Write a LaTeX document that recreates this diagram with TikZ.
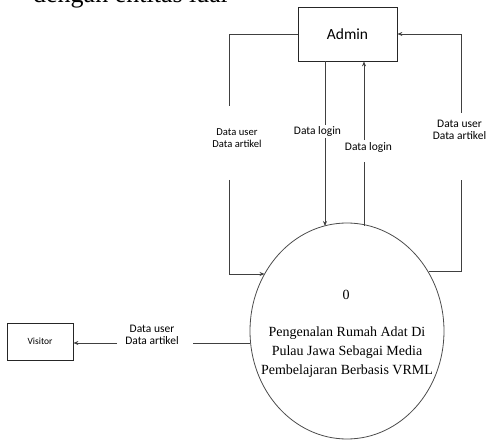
\documentclass[tikz,border=0pt]{standalone}
\usepackage{fontspec}
\setmainfont{Liberation Serif}
\newfontfamily\labelfont{Carlito}
\usetikzlibrary{shapes.geometric,arrows.meta}

\begin{document}
\begin{tikzpicture}[x=1pt,y=-1pt,
  flow/.style={draw=black!75,line width=0.8pt},
  arr/.style={flow,-{Stealth[length=5pt,width=4pt]}},
  entity/.style={draw=black!85,line width=0.8pt,rectangle,inner sep=0pt,font=\labelfont},
  process/.style={draw=black!70,line width=0.8pt,ellipse,inner sep=0pt,
    minimum width=194pt,minimum height=216pt},
  flowlabel/.style={font=\labelfont\fontsize{11.5}{12.5}\selectfont,align=center,inner sep=1pt}]
\useasboundingbox (0,0) rectangle (488,441);

% heading line running in from the page above
\node[anchor=base west,inner sep=0pt,font=\fontsize{26}{30}\selectfont] (head) at (33,3) {dengan entitas luar};

% external entities and the process
\node[entity,minimum width=99pt,minimum height=54pt,font=\labelfont\fontsize{15.5}{17}\selectfont] (admin) at (347.5,34) {Admin};
\node[entity,minimum width=66pt,minimum height=37pt,font=\labelfont\fontsize{9.5}{11}\selectfont] (visitor) at (40,341.5) {Visitor};
\node[process] (proc) at (347,331) {};
\node[font=\fontsize{14}{16}\selectfont] (pnum) at (346,295) {0};
\node[align=center,font=\fontsize{14}{19}\selectfont] (pname) at (347,352)
  {Pengenalan Rumah Adat Di\\Pulau Jawa Sebagai Media\\Pembelajaran Berbasis VRML};

% flow labels
\node[flowlabel,font=\labelfont\fontsize{10.6}{12}\selectfont] (lbl-left) at (237,138) {Data user\\Data artikel};
\node[flowlabel] (lbl-login1) at (317.5,131) {Data login};
\node[flowlabel] (lbl-login2) at (368.5,147.5) {Data login};
\node[flowlabel] (lbl-right) at (459.5,130) {Data user\\Data artikel};
\node[flowlabel] (lbl-visitor) at (152,335) {Data user\\Data artikel};

% break points of the connectors around their labels
\coordinate (l-top) at (229,106);
\coordinate (l-bot) at (229,180);
\coordinate (l-turn) at (229,274);
\coordinate (c1-top) at (325,125);
\coordinate (c1-bot) at (325,138);
\coordinate (c2-top) at (364,140);
\coordinate (c2-bot) at (364,162);
\coordinate (r-top) at (461,113);
\coordinate (r-bot) at (461,180);
\coordinate (v-right) at (193,343);
\coordinate (v-left) at (117,343);

% Admin -> process (left loop)
\draw[flow] (admin.west) -| (l-top);
\draw[arr] (l-bot) -- (l-turn) -- (l-turn -| proc.145);

% Admin -> process (Data login, down)
\draw[flow] ([xshift=-22.5pt]admin.south) -- (c1-top);
\draw[arr] (c1-bot) -- (c1-bot |- proc.103);

% process -> Admin (Data login, up)
\draw[flow] (c2-bot |- proc.78) -- (c2-bot);
\draw[arr] (c2-top) -- (c2-top |- admin.south);

% process -> Admin (right loop)
\draw[flow] (proc.36) -- (proc.36 -| r-bot) -- (r-bot);
\draw[arr] (r-top) |- (admin.east);

% process -> Visitor
\draw[flow] (v-right -| proc.west) -- (v-right);
\draw[arr] (v-left) -- (v-left -| visitor.east);
\end{tikzpicture}
\end{document}
